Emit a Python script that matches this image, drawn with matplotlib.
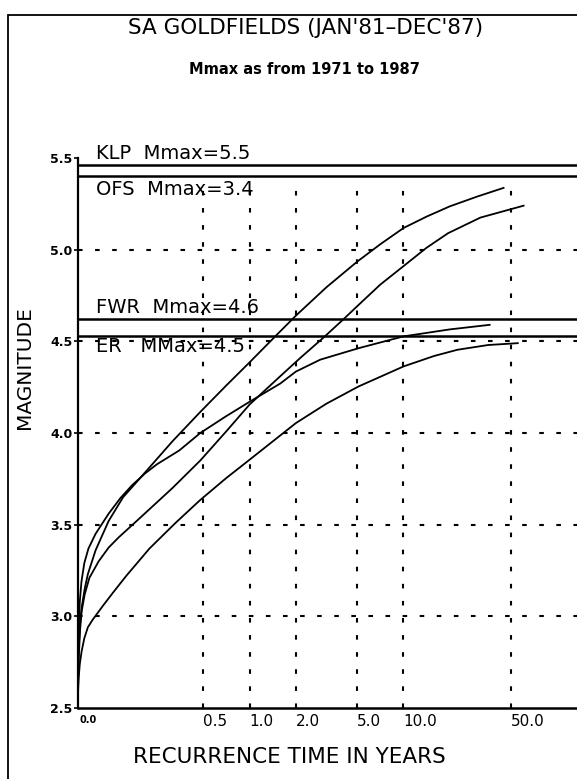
import matplotlib
matplotlib.use("Agg")
import matplotlib.pyplot as plt
from matplotlib.patches import Rectangle

# recurrence curves, x = recurrence time (years), y = magnitude
klp_t = [0.0769, 0.0775, 0.0790, 0.0813, 0.0850, 0.0891, 0.100, 0.1216, 0.151, 0.1905,
         0.316, 0.479, 0.708, 1.0, 1.585, 2.0, 3.16, 5.01, 7.08, 10.0, 14.1, 19.95, 30.2, 44.7]
klp_m = [2.62, 2.80, 2.95, 3.05, 3.15, 3.23, 3.36, 3.52, 3.65, 3.745,
         3.955, 4.115, 4.26, 4.385, 4.555, 4.64, 4.795, 4.935, 5.03, 5.118, 5.18, 5.236, 5.29, 5.337]

ofs_t = [0.0769, 0.0778, 0.0794, 0.0813, 0.0850, 0.0912, 0.1047, 0.1216, 0.141, 0.1905,
         0.316, 0.479, 0.708, 1.0, 1.585, 2.14, 3.02, 4.07, 5.13, 7.08, 10.0, 14.1, 19.5, 31.6, 60.3]
ofs_m = [2.60, 2.78, 2.93, 3.03, 3.12, 3.21, 3.30, 3.375, 3.43, 3.53,
         3.70, 3.85, 4.01, 4.155, 4.31, 4.41, 4.52, 4.62, 4.70, 4.81, 4.91, 5.01, 5.09, 5.175, 5.24]

fwr_t = [0.0769, 0.0772, 0.0778, 0.0790, 0.0810, 0.0845, 0.0899, 0.100, 0.1216, 0.145,
         0.1726, 0.21, 0.251, 0.35, 0.479, 0.70, 1.0, 1.585, 2.0, 2.88, 5.13, 10.0, 19.95, 36.3]
fwr_m = [2.62, 2.80, 2.95, 3.08, 3.19, 3.29, 3.37, 3.45, 3.56, 3.645,
         3.715, 3.78, 3.83, 3.905, 4.00, 4.09, 4.17, 4.27, 4.335, 4.40, 4.463, 4.527, 4.565, 4.59]

er_t = [0.0769, 0.0776, 0.0790, 0.0812, 0.0845, 0.0891, 0.0955, 0.1035, 0.1122, 0.130,
        0.158, 0.224, 0.331, 0.479, 0.708, 1.0, 2.0, 3.16, 5.11, 10.0, 15.8, 22.4, 35.5, 55.3]
er_m = [2.58, 2.66, 2.74, 2.81, 2.88, 2.94, 2.98, 3.02, 3.06, 3.13,
        3.22, 3.37, 3.51, 3.635, 3.755, 3.854, 4.054, 4.16, 4.254, 4.363, 4.42, 4.454, 4.48, 4.49]

# Mmax lines
mmax_levels = [5.46, 5.40, 4.62, 4.53]
mmax_labels = ["KLP  Mmax=5.5", "OFS  Mmax=3.4", "FWR  Mmax=4.6", "ER   MMax=4.5"]
mmax_above = [True, False, True, False]

x_ticks = [0.5, 1.0, 2.0, 5.0, 10.0, 50.0]
x_labels = ["0.5", "1.0", "2.0", "5.0", "10.0", "50.0"]
y_ticks = [2.5, 3.0, 3.5, 4.0, 4.5, 5.0, 5.5]
X_MIN, X_MAX = 0.0769, 134.0
Y_MIN, Y_MAX = 2.5, 5.5

W, H = 577, 779
fig = plt.figure(figsize=(W / 100, H / 100), dpi=100)
fig.patch.set_facecolor("white")

# outer frame (only left and top visible in the scan)
fig.patches.append(Rectangle((8 / W, -0.2), 1.5, 1.2 - 15 / H, transform=fig.transFigure,
                             fill=False, lw=1.3, ec="black"))

ax = fig.add_axes([78 / W, 1 - 708 / H, 1 - 78 / W, (708 - 158) / H])
ax.set_xscale("log")
ax.set_xlim(X_MIN, X_MAX)
ax.set_ylim(Y_MIN, Y_MAX)

grid_style = dict(color="black", lw=1.5, linestyle=(0, (2.2, 6.0)))
for y in y_ticks[1:-1]:
    ax.axhline(y, **grid_style, zorder=1)
ax.vlines(x_ticks, Y_MIN, mmax_levels[1] - 0.02, **grid_style, zorder=1)

for t, m in [(klp_t, klp_m), (ofs_t, ofs_m), (fwr_t, fwr_m), (er_t, er_m)]:
    ax.plot(t, m, color="black", lw=1.3, zorder=3, solid_joinstyle="round")

for i, (lvl, lab, above) in enumerate(zip(mmax_levels, mmax_labels, mmax_above)):
    ax.axhline(lvl, color="black", lw=1.8, zorder=2)
    if above:
        ax.text(0.1, lvl + 0.012, lab, fontsize=14, va="bottom", ha="left",
                zorder=4, clip_on=False)
    else:
        off = 0.022 if i == 1 else 0.008
        ax.text(0.1, lvl - off, lab, fontsize=14, va="top", ha="left",
                zorder=4, clip_on=False)

for side in ["top", "right"]:
    ax.spines[side].set_visible(False)
ax.spines["left"].set_linewidth(1.6)
ax.spines["bottom"].set_linewidth(1.8)

ax.set_xticks(x_ticks)
ax.set_xticklabels(x_labels, fontsize=11)
ax.minorticks_off()
for lab in ax.get_xticklabels():
    lab.set_ha("left")
ax.tick_params(axis="x", length=0, pad=4)
ax.text(X_MIN * 1.03, -0.022, "0.0", transform=ax.get_xaxis_transform(),
        fontsize=7, fontweight="bold", ha="left", va="center")

ax.set_yticks(y_ticks)
ax.set_yticklabels([f"{v:.1f}" for v in y_ticks], fontsize=9, fontweight="bold")
ax.tick_params(axis="y", length=3, width=1.2, pad=1)

fig.text(306 / W, 1 - 28 / H, "SA GOLDFIELDS (JAN'81\u2013DEC'87)", fontsize=15.5,
         ha="center", va="center")
fig.text(304 / W, 1 - 70 / H, "Mmax as from 1971 to 1987", fontsize=10.5,
         fontweight="bold", ha="center", va="center")
fig.text(289 / W, 1 - 757 / H, "RECURRENCE TIME IN YEARS", fontsize=15.5,
         ha="center", va="center")
fig.text(25 / W, 1 - 368 / H, "MAGNITUDE", fontsize=14.5, rotation=90,
         ha="center", va="center")

fig.savefig("out.png", dpi=100)
